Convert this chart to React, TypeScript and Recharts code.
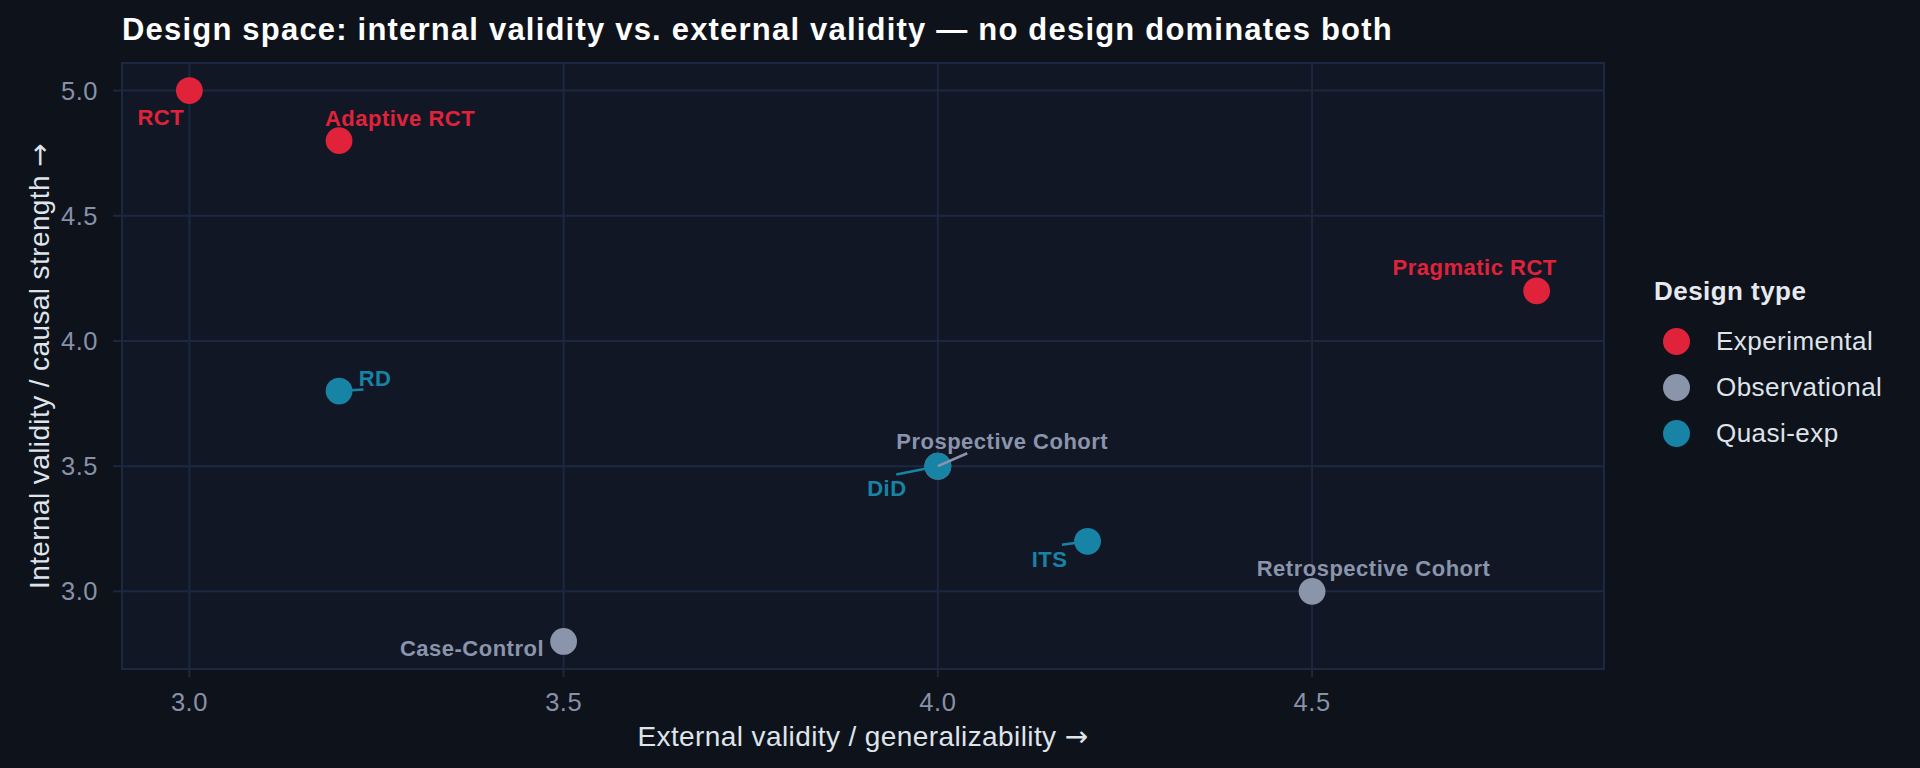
import React from 'react';
import {
  ScatterChart,
  Scatter,
  XAxis,
  YAxis,
  CartesianGrid,
  Legend,
  ReferenceArea,
  Label
} from 'recharts';

// Study designs and their scores
const designNames = [
  'RCT',
  'Adaptive RCT',
  'Pragmatic RCT',
  'RD',
  'DiD',
  'ITS',
  'Prospective Cohort',
  'Retrospective Cohort',
  'Case-Control'
];
const designTypes = [
  'Experimental',
  'Experimental',
  'Experimental',
  'Quasi-exp',
  'Quasi-exp',
  'Quasi-exp',
  'Observational',
  'Observational',
  'Observational'
];
const externalValidity = [3.0, 3.2, 4.8, 3.2, 4.0, 4.2, 4.0, 4.5, 3.5];
const internalValidity = [5.0, 4.8, 4.2, 3.8, 3.5, 3.2, 3.5, 3.0, 2.8];

const typeOrder = ['Experimental', 'Observational', 'Quasi-exp'];
const xTicks = [3.0, 3.5, 4.0, 4.5];
const yTicks = [3.0, 3.5, 4.0, 4.5, 5.0];
const xDomain: [number, number] = [2.91, 4.89];
const yDomain: [number, number] = [2.69, 5.11];

const typeColors: Record<string, string> = {
  Experimental: '#e0223a',
  Observational: '#8a94ab',
  'Quasi-exp': '#1784a6'
};

// label placement in px relative to the point (repel-style)
const labelPlacement: Record<string, { dx: number; dy: number; seg?: [number, number] }> = {
  RCT: { dx: -28.6, dy: 26.6 },
  'Adaptive RCT': { dx: 61, dy: -23 },
  'Pragmatic RCT': { dx: -62, dy: -23.6 },
  RD: { dx: 36, dy: -12.6, seg: [24.4, -1.6] },
  DiD: { dx: -51, dy: 22.4, seg: [-41.6, 8.4] },
  ITS: { dx: -38, dy: 17.4, seg: [-25.6, 3.4] },
  'Prospective Cohort': { dx: 64.4, dy: -24.6, seg: [29.4, -12.9] },
  'Retrospective Cohort': { dx: 61.5, dy: -23 },
  'Case-Control': { dx: -91.6, dy: 6.4 }
};

const FONT = '"Liberation Sans", Arial, Helvetica, sans-serif';
const ARROW_FONT = '"DejaVu Sans", sans-serif';
const PAGE_BG = '#0e121a';
const PANEL_BG = '#121726';
const GRID = '#1c2840';
const TICK_COLOR = '#8791a7';
const TEXT_LIGHT = '#dfe3ea';

const points = designNames.map((name, i) => ({
  name,
  type: designTypes[i],
  x: externalValidity[i],
  y: internalValidity[i]
}));

const Dot = (props: any) => {
  const { cx, cy, fill } = props;
  return <circle cx={cx} cy={cy} r={13.4} fill={fill} />;
};

const PointLabel = (props: any) => {
  const { cx, cy, payload } = props;
  const place = labelPlacement[payload.name];
  const color = typeColors[payload.type];
  const fs = 22;
  return (
    <g>
      {place.seg && (
        <line
          x1={cx}
          y1={cy}
          x2={cx + place.seg[0]}
          y2={cy + place.seg[1]}
          stroke={color}
          strokeWidth={2.6}
        />
      )}
      <text
        x={cx + place.dx}
        y={cy + place.dy + 0.358 * fs}
        textAnchor="middle"
        fill={color}
        fontSize={fs}
        fontWeight={700}
        fontFamily={FONT}
        letterSpacing={0.5}
      >
        {payload.name}
      </text>
    </g>
  );
};

const LegendBox = (props: any) => {
  const items = (props.payload || []).filter((p: any) => p.type !== 'none');
  return (
    <div style={{ fontFamily: FONT, letterSpacing: 0.45 }}>
      <div style={{ fontSize: 26, fontWeight: 700, color: '#e6e9ef', lineHeight: '30px' }}>
        Design type
      </div>
      <div style={{ marginTop: 12 }}>
        {items.map((it: any) => (
          <div key={it.value} style={{ display: 'flex', alignItems: 'center', height: 46 }}>
            <span
              style={{
                width: 27,
                height: 27,
                borderRadius: '50%',
                background: typeColors[it.value] || it.color,
                marginLeft: 8.5,
                marginRight: 26.5,
                display: 'inline-block'
              }}
            />
            <span style={{ fontSize: 26, color: TEXT_LIGHT }}>{it.value}</span>
          </div>
        ))}
      </div>
    </div>
  );
};

const XTitle = (props: any) => {
  const vb = props.viewBox || { x: 122, y: 669, width: 1482, height: 99 };
  return (
    <text
      x={vb.x + vb.width / 2}
      y={vb.y + 66.7 + 0.358 * 28}
      textAnchor="middle"
      fill={TEXT_LIGHT}
      fontSize={28}
      fontFamily={FONT}
      letterSpacing={0.4}
    >
      External validity / generalizability <tspan fontFamily={ARROW_FONT}>→</tspan>
    </text>
  );
};

const YTitle = (props: any) => {
  const vb = props.viewBox || { x: 0, y: 63, width: 122, height: 606 };
  const cx = 39 + 0.358 * 28;
  const cy = vb.y + vb.height / 2;
  return (
    <text
      x={cx}
      y={cy}
      transform={`rotate(-90, ${cx}, ${cy})`}
      textAnchor="middle"
      fill={TEXT_LIGHT}
      fontSize={28}
      fontFamily={FONT}
      letterSpacing={0.4}
    >
      Internal validity / causal strength <tspan fontFamily={ARROW_FONT}>→</tspan>
    </text>
  );
};

export default function App() {
  return (
    <div style={{ position: 'relative', width: 1920, height: 768, background: PAGE_BG, overflow: 'hidden' }}>
      <style>{`body{margin:0;background:${PAGE_BG};}`}</style>
      <div
        style={{
          position: 'absolute',
          left: 122,
          top: 13.5,
          fontFamily: FONT,
          fontSize: 31,
          lineHeight: '31px',
          fontWeight: 700,
          letterSpacing: 1.2,
          color: '#ffffff',
          whiteSpace: 'nowrap'
        }}
      >
        Design space: internal validity vs. external validity — no design dominates both
      </div>
      <ScatterChart width={1920} height={768} margin={{ top: 63, right: 316, bottom: 0, left: 0 }}>
        <CartesianGrid stroke={GRID} strokeWidth={2} fill={PANEL_BG} />
        <XAxis
          type="number"
          dataKey="x"
          domain={xDomain}
          ticks={xTicks}
          interval={0}
          allowDataOverflow
          height={99}
          axisLine={false}
          tickLine={{ stroke: GRID, strokeWidth: 2 }}
          tickSize={8}
          tickMargin={16}
          tick={{ fill: TICK_COLOR, fontSize: 25.5, fontFamily: FONT, letterSpacing: 0.5 }}
          tickFormatter={(v: number) => v.toFixed(1)}
        >
          <Label content={<XTitle />} />
        </XAxis>
        <YAxis
          type="number"
          dataKey="y"
          domain={yDomain}
          ticks={yTicks}
          interval={0}
          allowDataOverflow
          width={122}
          axisLine={false}
          tickLine={{ stroke: GRID, strokeWidth: 2 }}
          tickSize={9}
          tickMargin={15}
          tick={{ fill: TICK_COLOR, fontSize: 25.5, fontFamily: FONT, letterSpacing: 0.5 }}
          tickFormatter={(v: number) => v.toFixed(1)}
        >
          <Label content={<YTitle />} />
        </YAxis>
        <ReferenceArea
          x1={xDomain[0]}
          x2={xDomain[1]}
          y1={yDomain[0]}
          y2={yDomain[1]}
          fill="none"
          stroke={GRID}
          strokeWidth={2}
          ifOverflow="visible"
        />
        {typeOrder.map((t) => (
          <Scatter
            key={t}
            name={t}
            data={points.filter((p) => p.type === t)}
            fill={typeColors[t]}
            shape={<Dot />}
            isAnimationActive={false}
          />
        ))}
        <Scatter
          name="labels"
          data={points}
          legendType="none"
          shape={<PointLabel />}
          isAnimationActive={false}
        />
        <Legend
          layout="horizontal"
          verticalAlign="middle"
          align="center"
          wrapperStyle={{ left: 1654, top: 276, width: 260 }}
          content={<LegendBox />}
        />
      </ScatterChart>
    </div>
  );
}
